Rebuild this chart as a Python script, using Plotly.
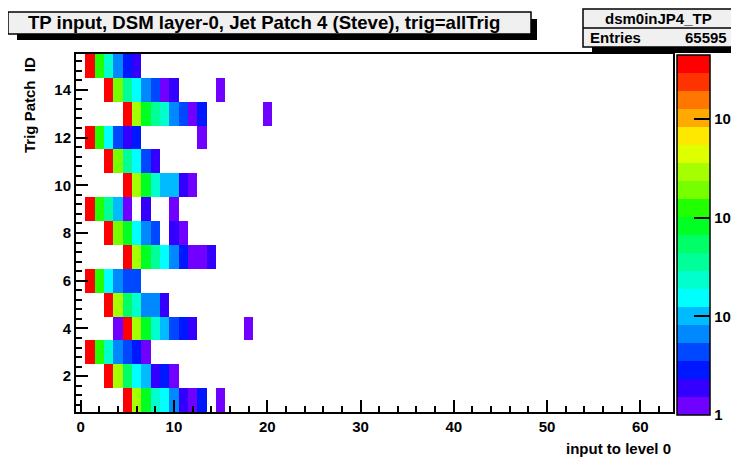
import numpy as np
import plotly.graph_objects as go

# ---------------- data ----------------
n_bins = 64                      # input to level 0: 0..63
patch_ids = list(range(1, 16))   # Trig Patch ID 1..15

# counts per input value (index = input value 0..20), one list per trig patch
patch_01 = [0, 0, 0, 0, 0, 3900, 282, 81, 23, 15, 6, 2, 1, 3, 0, 1, 0, 0, 0, 0, 0]
patch_02 = [0, 0, 0, 3900, 282, 53, 15, 10, 2, 3, 1, 0, 0, 0, 0, 0, 0, 0, 0, 0, 0]
patch_03 = [0, 3900, 123, 23, 6, 4, 3, 1, 0, 0, 0, 0, 0, 0, 0, 0, 0, 0, 0, 0, 0]
patch_04 = [0, 0, 0, 0, 1, 3900, 282, 81, 23, 10, 4, 3, 2, 0, 0, 0, 0, 0, 1, 0, 0]
patch_05 = [0, 0, 0, 3900, 282, 53, 23, 6, 6, 2, 0, 0, 0, 0, 0, 0, 0, 0, 0, 0, 0]
patch_06 = [0, 3900, 123, 15, 6, 4, 4, 0, 0, 0, 0, 0, 0, 0, 0, 0, 0, 0, 0, 0, 0]
patch_07 = [0, 0, 0, 0, 0, 3900, 282, 81, 35, 15, 6, 3, 1, 1, 2, 0, 0, 0, 0, 0, 0]
patch_08 = [0, 0, 0, 3900, 186, 81, 15, 6, 4, 0, 2, 1, 0, 0, 0, 0, 0, 0, 0, 0, 0]
patch_09 = [0, 3900, 123, 35, 10, 1, 0, 2, 0, 0, 1, 0, 0, 0, 0, 0, 0, 0, 0, 0, 0]
patch_10 = [0, 0, 0, 0, 0, 3900, 282, 81, 23, 10, 10, 2, 1, 0, 0, 0, 0, 0, 0, 0, 0]
patch_11 = [0, 0, 0, 3900, 186, 35, 15, 4, 2, 0, 0, 0, 0, 0, 0, 0, 0, 0, 0, 0, 0]
patch_12 = [0, 3900, 123, 15, 4, 2, 3, 0, 0, 0, 0, 0, 0, 1, 0, 0, 0, 0, 0, 0, 0]
patch_13 = [0, 0, 0, 0, 0, 3900, 282, 81, 35, 23, 6, 4, 1, 3, 0, 0, 0, 0, 0, 0, 1]
patch_14 = [0, 0, 0, 3900, 186, 35, 15, 6, 4, 1, 2, 0, 0, 0, 0, 1, 0, 0, 0, 0, 0]
patch_15 = [0, 3900, 123, 23, 6, 3, 2, 0, 0, 0, 0, 0, 0, 0, 0, 0, 0, 0, 0, 0, 0]

rows = [patch_01, patch_02, patch_03, patch_04, patch_05, patch_06, patch_07, patch_08,
        patch_09, patch_10, patch_11, patch_12, patch_13, patch_14, patch_15]

z_max_count = 4440.0   # top of the colour scale
entries = 65595

# ---------------- style ----------------
palette = ["#7000FF", "#3300FF", "#0018FF", "#0048FF", "#0088FF", "#00BBFF", "#00FFFF",
           "#00FFCC", "#00FF99", "#00FF66", "#00FF22", "#22FF00", "#77FF00", "#A5FF00",
           "#DDFF00", "#FFE800", "#FFAA00", "#FF7700", "#FF3300", "#FF0000"]
nb = len(palette)
colorscale = []
for i, c in enumerate(palette):
    colorscale.append([i / nb, c])
    colorscale.append([(i + 1) / nb, c])

VW, VH = 739, 459      # browser window
OFF = 8                # page body margin
W, H = VW - OFF, VH - OFF
L, R, T, B = 76, 673, 54, 412   # plot frame in window pixels


def px(x):
    return (x - L) / (R - L)


def py(y):
    return (B - y) / (B - T)


FONT = "Liberation Sans"

x_vals = np.arange(n_bins)
z = np.full((len(patch_ids), n_bins), np.nan)
for r, counts in enumerate(rows):
    for b, c in enumerate(counts):
        if c > 0:
            z[r, b] = np.log10(c)
zmax = np.log10(z_max_count)

z_list = [[None if np.isnan(v) else float(v) for v in row] for row in z]

cb_x0 = 677
cb_th = 33

fig = go.Figure(go.Heatmap(
    x=x_vals, y=patch_ids, z=z_list,
    zmin=0, zmax=zmax, colorscale=colorscale,
    hoverongaps=False,
    colorbar=dict(
        x=px(cb_x0), xanchor="left", xpad=0, thickness=cb_th,
        y=py(415), yanchor="bottom", len=(415 - 55) / (B - T), lenmode="fraction", ypad=0,
        outlinewidth=1.5, outlinecolor="black",
        tickmode="array",
        tickvals=[0, 1, 2, 3],
        ticktext=["1", "10", "10<sup>2</sup>", "10<sup>3</sup>"],
        ticks="inside", ticklen=16, tickwidth=1.5, tickcolor="black",
        tickfont=dict(family=FONT, size=15, color="black", weight="bold"),
    ),
))

# minor ticks on the colour bar
shapes = []
minor_vals = [v * d for d in (1, 10, 100, 1000) for v in range(2, 10) if v * d < z_max_count]
bar_right = cb_x0 + cb_th
for v in minor_vals:
    ypx = 415 - (415 - 55) * np.log10(v) / zmax
    shapes.append(dict(type="line", xref="paper", yref="paper",
                       x0=px(bar_right - 8), x1=px(bar_right), y0=py(ypx), y1=py(ypx),
                       line=dict(color="black", width=1.5)))

# title box with shadow
shapes.append(dict(type="rect", xref="paper", yref="paper",
                   x0=px(17), x1=px(537), y0=py(40), y1=py(19),
                   fillcolor="black", line=dict(width=0)))
shapes.append(dict(type="rect", xref="paper", yref="paper",
                   x0=px(8), x1=px(531), y0=py(34), y1=py(12),
                   fillcolor="#F0F0F0", line=dict(color="black", width=1.5)))
# stats box with shadow
shapes.append(dict(type="rect", xref="paper", yref="paper",
                   x0=px(592), x1=px(740), y0=py(53), y1=py(16),
                   fillcolor="black", line=dict(width=0)))
shapes.append(dict(type="rect", xref="paper", yref="paper",
                   x0=px(583), x1=px(733), y0=py(47), y1=py(9),
                   fillcolor="#F0F0F0", line=dict(color="black", width=1.5)))
shapes.append(dict(type="line", xref="paper", yref="paper",
                   x0=px(583), x1=px(733), y0=py(28), y1=py(28),
                   line=dict(color="black", width=1.5)))

annotations = [
    dict(text="TP input, DSM layer-0, Jet Patch 4 (Steve), trig=allTrig",
         xref="paper", yref="paper", x=px(264), y=py(23), xanchor="center", yanchor="middle",
         showarrow=False, font=dict(family=FONT, size=18.6, color="black", weight="bold")),
    dict(text="dsm0inJP4_TP", xref="paper", yref="paper", x=px(658), y=py(18.5),
         xanchor="center", yanchor="middle", showarrow=False,
         font=dict(family=FONT, size=15, color="black", weight="bold")),
    dict(text="Entries", xref="paper", yref="paper", x=px(588), y=py(37.5),
         xanchor="left", yanchor="middle", showarrow=False,
         font=dict(family=FONT, size=15, color="black", weight="bold")),
    dict(text=str(entries), xref="paper", yref="paper", x=px(729), y=py(37.5),
         xanchor="right", yanchor="middle", showarrow=False,
         font=dict(family=FONT, size=15, color="black", weight="bold")),
    dict(text="Trig Patch  ID", xref="paper", yref="paper", x=px(29), y=py(55),
         xanchor="center", yanchor="top", textangle=-90, showarrow=False,
         font=dict(family=FONT, size=15, color="black", weight="bold")),
    dict(text="input to level 0", xref="paper", yref="paper", x=px(673), y=py(448),
         xanchor="right", yanchor="middle", showarrow=False,
         font=dict(family=FONT, size=15, color="black", weight="bold")),
]

fig.update_layout(
    width=W, height=H,
    margin=dict(l=L - OFF, r=VW - R, t=T - OFF, b=VH - B, autoexpand=False, pad=0),
    paper_bgcolor="white", plot_bgcolor="white",
    shapes=shapes, annotations=annotations,
    showlegend=False,
)
fig.update_xaxes(
    range=[-0.5, 63.5], showgrid=False, zeroline=False,
    showline=True, linecolor="black", linewidth=2, mirror=True,
    tickmode="linear", tick0=0, dtick=10,
    ticks="inside", ticklen=12, tickwidth=1.5, tickcolor="black",
    minor=dict(tickmode="linear", tick0=0, dtick=2, ticks="inside", ticklen=6,
               tickwidth=1.5, tickcolor="black", showgrid=False),
    tickfont=dict(family=FONT, size=15, color="black", weight="bold"),
)
fig.update_yaxes(
    range=[0.5, 15.5], showgrid=False, zeroline=False,
    showline=True, linecolor="black", linewidth=2, mirror=True,
    tickmode="linear", tick0=0, dtick=2,
    ticks="inside", ticklen=12, tickwidth=1.5, tickcolor="black",
    minor=dict(tickmode="linear", tick0=0, dtick=0.4, ticks="inside", ticklen=6,
               tickwidth=1.5, tickcolor="black", showgrid=False),
    tickfont=dict(family=FONT, size=15, color="black", weight="bold"),
)

fig.write_html("out.html")
